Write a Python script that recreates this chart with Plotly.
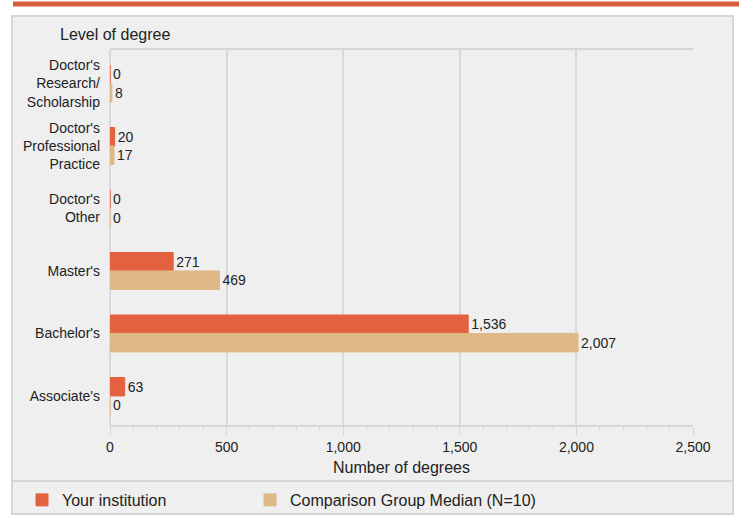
import plotly.graph_objects as go

W, H = 739, 518
ML, MR, MT, MB = 110, 46, 50, 93
PW, PH = W - ML - MR, H - MT - MB

def px(x):
    return (x - ML) / PW

def py(y):
    return (H - MB - y) / PH

categories = [
    "Doctor's<br>Research/<br>Scholarship",
    "Doctor's<br>Professional<br>Practice",
    "Doctor's<br>Other",
    "Master's",
    "Bachelor's",
    "Associate's",
]
your_institution = [0, 20, 0, 271, 1536, 63]
comparison_median = [8, 17, 0, 469, 2007, 0]
x_ticks = [0, 500, 1000, 1500, 2000, 2500]

ORANGE = "#E4613F"
TAN = "#DEB887"
FONT = "Liberation Sans, Arial, sans-serif"

fig = go.Figure()
fig.add_trace(go.Bar(
    y=categories, x=your_institution, orientation="h",
    name="Your institution", legend="legend",
    marker=dict(color=ORANGE, line=dict(color=ORANGE, width=1)),
    texttemplate="%{x:,}", textposition="outside", cliponaxis=False,
    textfont=dict(size=14, color="#222", family=FONT),
))
fig.add_trace(go.Bar(
    y=categories, x=comparison_median, orientation="h",
    name="Comparison Group Median (N=10)", legend="legend2",
    marker=dict(color=TAN, line=dict(color=TAN, width=1)),
    texttemplate="%{x:,}", textposition="outside", cliponaxis=False,
    textfont=dict(size=14, color="#222", family=FONT),
))

shapes = [
    # top accent bar
    dict(type="rect", xref="paper", yref="paper", x0=px(13), x1=px(740), y0=py(6.5), y1=py(1.5),
         fillcolor="#D55F3B", line=dict(width=0), layer="below"),
    # panel
    dict(type="rect", xref="paper", yref="paper", x0=px(12), x1=px(733), y0=py(514), y1=py(16),
         fillcolor="#EFEFEF", line=dict(color="#D6D6D6", width=2), layer="below"),
    # legend separator
    dict(type="line", xref="paper", yref="paper", x0=px(12), x1=px(733), y0=py(481), y1=py(481),
         line=dict(color="#D6D6D6", width=2), layer="below"),
]

legend_common = dict(
    orientation="h", yanchor="middle", y=py(500), xanchor="left",
    font=dict(size=16, color="#222", family=FONT),
    bgcolor="rgba(0,0,0,0)", borderwidth=0,
)

fig.update_layout(
    width=W, height=H, autosize=False,
    margin=dict(l=ML, r=MR, t=MT, b=MB, autoexpand=False),
    paper_bgcolor="white", plot_bgcolor="#EFEFEF",
    font=dict(family=FONT, size=14, color="#222"),
    barmode="group", bargap=0.41, bargroupgap=0,
    showlegend=True,
    legend=dict(x=px(22), **legend_common),
    legend2=dict(x=px(250), **legend_common),
    shapes=shapes,
    annotations=[
        dict(text="Level of degree", xref="paper", yref="paper", x=px(58), y=py(35),
             xanchor="left", yanchor="middle", showarrow=False,
             font=dict(size=16, color="#222", family=FONT)),
        dict(text="Number of degrees", xref="paper", yref="paper", x=px(401), y=py(467),
             xanchor="center", yanchor="middle", showarrow=False,
             font=dict(size=16, color="#222", family=FONT)),
    ],
)
fig.update_xaxes(
    range=[0, 2500], tickvals=x_ticks, tickformat=",",
    showgrid=True, gridcolor="#D9D9D9", gridwidth=2,
    zeroline=True, zerolinecolor="#D9D9D9", zerolinewidth=2,
    showline=True, linecolor="#D6D6D6", linewidth=2, mirror=True,
    ticks="outside", ticklen=8, tickcolor="#D6D6D6", tickwidth=1,
    minor=dict(dtick=100, ticks="outside", ticklen=4, tickcolor="#D6D6D6", showgrid=False),
    tickfont=dict(size=14, color="#222"),
    automargin=False, fixedrange=True,
)
fig.update_yaxes(
    range=[5.465, -0.535], showgrid=False, ticks="", ticklabelstandoff=9,
    tickfont=dict(size=14, color="#222"), automargin=False, fixedrange=True,
)

fig.write_html("out.html", config={"displayModeBar": False},
               post_script="document.body.style.margin='0';")
